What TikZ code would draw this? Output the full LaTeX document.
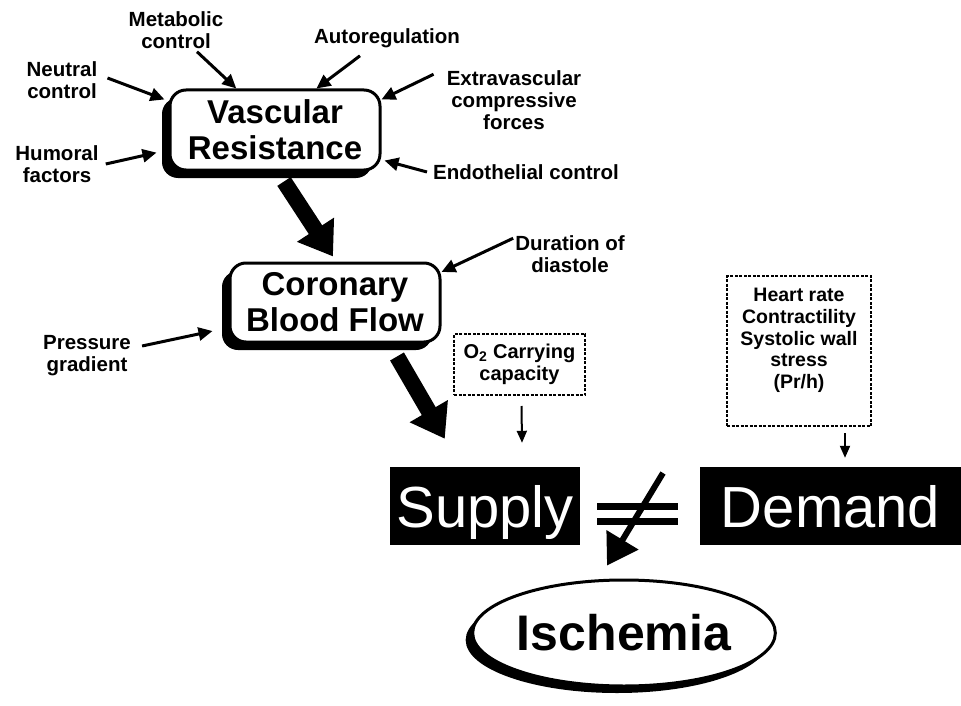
\documentclass[tikz,border=0pt]{standalone}
\usepackage{fontspec}
\setmainfont{Liberation Sans}
\usetikzlibrary{arrows.meta,calc,shapes.geometric,shadows}
\begin{document}
\begin{tikzpicture}[x=1pt,y=-1pt,
  lab/.style={font=\bfseries\fontsize{20.5}{22}\selectfont, align=center, inner sep=0pt},
  bigbox/.style={draw, line width=3pt, rounded corners=16pt, fill=white,
    font=\bfseries\fontsize{33}{36}\selectfont, align=center, inner sep=0pt,
    drop shadow={shadow xshift=-8pt, shadow yshift=-8pt, opacity=1, fill=black}},
  arr/.style={line width=3pt, -{Triangle[length=14pt,width=13pt]}},
  bigarr/.style={line width=16pt, -{Triangle[length=32pt,width=42pt]}},
  thinarr/.style={line width=2pt, -{Triangle[length=12pt,width=10pt]}},
  dbox/.style={draw, line width=2pt, dash pattern=on 3pt off 1.5pt, inner sep=0pt},
  blk/.style={fill=black, text=white, font=\fontsize{58}{60}\selectfont, inner sep=0pt,
    text height=46pt, text depth=4pt},
  bar/.style={line width=7pt}
]
\useasboundingbox (0,0) rectangle (961,706);

% main boxes
\node[bigbox, minimum width=210pt, minimum height=80pt] (vr) at (275,130) {Vascular\\Resistance};
\node[bigbox, minimum width=210pt, minimum height=79pt] (cbf) at (335,302.5) {Coronary\\Blood Flow};

% labels
\node[lab] (meta) at (176,30) {Metabolic\\control};
\node[lab] (auto) at (387,38) {Autoregulation};
\node[lab] (neut) at (62,80) {Neutral\\control};
\node[lab] (hum) at (57,164) {Humoral\\factors};
\node[lab] (extra) at (514,100) {Extravascular\\compressive\\forces};
\node[lab] (endo) at (526,172) {Endothelial control};
\node[lab] (dur) at (570,254) {Duration of\\diastole};
\node[lab] (press) at (87,356) {Pressure\\gradient};

% arrows into vascular resistance
\draw[arr] ($(meta.south)+(21,3)$) -- (vr.133);
\draw[arr] ($(auto.south)+(-27,8)$) -- (vr.45);
\draw[arr] ($(neut.east)+(10,-2)$) -- ([xshift=-4pt]vr.164);
\draw[arr] ($(hum.east)+(7,0)$) -- ([xshift=-12pt]vr.192);
\draw[arr] ($(extra.north west)+(-13,4)$) -- (vr.16);
\draw[arr] ($(endo.west)+(-6,0)$) -- ([xshift=3pt]vr.344);

% arrows into coronary blood flow
\draw[arr] ($(dur.north west)+(-2,3)$) -- (cbf.16);
\draw[arr] ($(press.east)+(11,-10)$) -- ([xshift=-16pt]cbf.195);

% big arrows
\draw[bigarr] ($(vr.south)+(9,10)$) -- ($(cbf.north)+(-2,-5)$);

% supply / demand
\node[blk, minimum width=190pt, minimum height=78pt] (supply) at (485,506) {Supply};
\node[blk, minimum width=261pt, minimum height=78pt] (demand) at (830.5,506) {Demand};

\draw[bigarr] ($(cbf.south)+(62,13)$) -- ($(supply.north west)+(55,-28)$);

% dashed factor boxes
\node[dbox, minimum width=131pt, minimum height=61pt, font=\bfseries\fontsize{20}{22}\selectfont, align=center] (o2) at (519.5,364.5) {O\textsubscript{2} Carrying\\capacity};
\node[dbox, minimum width=144pt, minimum height=150pt] (hf) at (799,351) {};
\node[lab, font=\bfseries\fontsize{19.5}{21.7}\selectfont] (hftext) at (799,340.5) {Heart rate\\Contractility\\Systolic wall\\stress\\(Pr/h)};

\draw[thinarr] ($(o2.south)+(2,10)$) -- ($(supply.north)+(37,-24)$);
\draw[thinarr] ($(hf.south)+(46,6)$) -- ($(demand.north)+(14.5,-9)$);

% ischemia
\node[ellipse, draw, line width=3pt, fill=white, minimum width=266pt, minimum height=106pt, inner sep=0pt,
  font=\bfseries\fontsize{50}{52}\selectfont,
  drop shadow={shadow xshift=-7pt, shadow yshift=-7pt, opacity=1, fill=black}] (isch) at (624,633) {Ischemia};

% not-equal sign with arrow
\draw[bar] (597,506.5) -- (678,506.5);
\draw[bar] (597,521) -- (678,521);
\coordinate (neqtop) at (663,473);
\draw[line width=6pt, -{Triangle[length=30pt,width=36pt]}] (neqtop) -- ($(isch.north)+(-17,-13)$);
\end{tikzpicture}
\end{document}
